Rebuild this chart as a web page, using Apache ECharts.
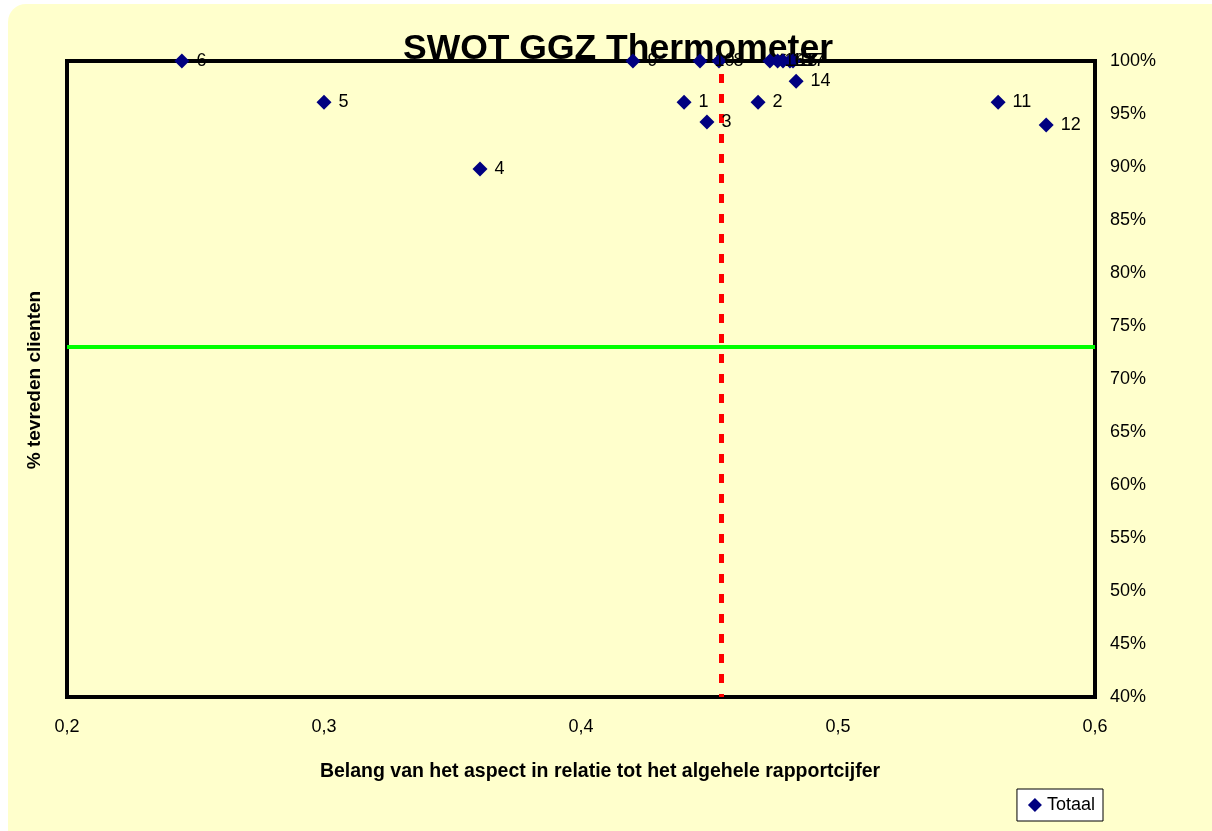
<!DOCTYPE html>
<html><head><meta charset="utf-8">
<script src="https://cdn.jsdelivr.net/npm/echarts@6/dist/echarts.min.js"></script>
<style>html,body{margin:0;padding:0;background:#fff}#c{width:1212px;height:831px}</style>
</head><body><div id="c"></div>
<script>
const labels = ['6','5','4','9','10','8','16','13','15','17','7','14','1','2','3','11','12'];
const xValues = [0.2447,0.300,0.3607,0.4202,0.4463,0.4537,0.4735,0.4765,0.4786,0.4813,0.4825,0.4837,0.4401,0.4689,0.449,0.5623,0.581];
const yValues = [1.0,0.961,0.898,1.0,1.0,1.0,1.0,1.0,1.0,1.0,1.0,0.981,0.961,0.961,0.9425,0.961,0.9396];
const refX = 0.4545;
const refY = 0.73;
const xTicks = [0.2,0.3,0.4,0.5,0.6];

const chart = echarts.init(document.getElementById('c'));
const F = 'Liberation Sans, Arial, sans-serif';
chart.setOption({
  animation:false,
  backgroundColor:'#fff',
  graphic:[
    {type:'rect',z:-10,silent:true,shape:{x:8,y:4,width:1230,height:860,r:18},style:{fill:'#FFFFCC'}},
    {type:'text',x:35,y:380,rotation:Math.PI/2,style:{text:'% tevreden clienten',font:'bold 19px '+F,fill:'#000',align:'center',verticalAlign:'middle'}},
    {type:'text',x:600,y:772,style:{text:'Belang van het aspect in relatie tot het algehele rapportcijfer',font:'bold 19.5px '+F,fill:'#000',align:'center',verticalAlign:'middle'}}
  ],
  title:{text:'SWOT GGZ Thermometer',left:398,top:26,textStyle:{fontFamily:F,fontWeight:'bold',fontSize:35.5,color:'#000'},z:1},
  legend:{right:109,bottom:10,orient:'horizontal',backgroundColor:'#fff',borderColor:'#000',borderWidth:1,padding:[7,8,7,11],borderRadius:0,
    itemWidth:14,itemHeight:14,itemGap:3,textStyle:{fontFamily:F,fontSize:18,color:'#000'},data:[{name:'Totaal',icon:'diamond'}]},
  grid:{left:67,right:117,top:61,bottom:134,show:true,borderColor:'#000',borderWidth:4,backgroundColor:'transparent'},
  xAxis:{type:'value',min:0.2,max:0.6,interval:0.1,
    axisLine:{show:false},axisTick:{show:false},splitLine:{show:false},
    axisLabel:{margin:21,fontFamily:F,fontSize:18,color:'#000',formatter:v=>{const t=xTicks.find(k=>Math.abs(k-v)<1e-9);return t===undefined?'':String(t).replace('.',',');}}},
  yAxis:{type:'value',position:'right',min:0.4,max:1.0,interval:0.05,
    axisLine:{show:false},axisTick:{show:false},splitLine:{show:false},
    axisLabel:{margin:15,fontFamily:F,fontSize:18,color:'#000',formatter:v=>Math.round(v*100)+'%'}},
  series:[{
    name:'Totaal',type:'scatter',symbol:'diamond',symbolSize:15,
    itemStyle:{color:'#000080',opacity:1},
    emphasis:{disabled:true},
    data:xValues.map((x,i)=>({value:[x,yValues[i]],name:labels[i]})),
    label:{show:true,position:'right',distance:7,formatter:p=>p.name,fontFamily:F,fontSize:18,color:'#000',opacity:1},
    markLine:{silent:true,symbol:'none',precision:4,label:{show:false},animation:false,
      data:[
        {xAxis:refX,lineStyle:{color:'#FF0000',width:5,type:[9,11],dashOffset:-14,opacity:1}},
        {yAxis:refY,lineStyle:{color:'#00FF00',width:4,type:'solid',opacity:1}}
      ]},
    z:5
  }]
});
</script></body></html>
